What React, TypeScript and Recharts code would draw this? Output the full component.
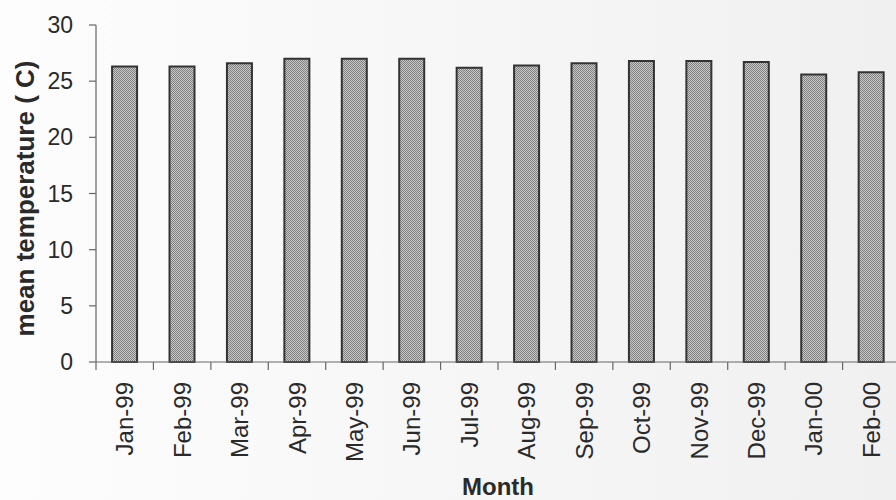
import { BarChart, Bar, XAxis, YAxis } from "recharts";

// monthly mean temperature, Jan-99 .. Feb-00
const months = [
  "Jan-99", "Feb-99", "Mar-99", "Apr-99", "May-99", "Jun-99", "Jul-99",
  "Aug-99", "Sep-99", "Oct-99", "Nov-99", "Dec-99", "Jan-00", "Feb-00",
];
const meanTemp = [
  26.3, 26.3, 26.6, 27.0, 27.0, 27.0, 26.2,
  26.4, 26.6, 26.8, 26.8, 26.7, 25.6, 25.8,
];
const yTicks = [0, 5, 10, 15, 20, 25, 30];

const data = months.map((m, i) => ({ month: m, temp: meanTemp[i] }));

const W = 900;
const H = 500;
const Y_AXIS_W = 96;
const FONT = "Arial, 'Liberation Sans', Helvetica, sans-serif";
const INK = "#2a2a2a";
const AXIS = "#666";

const MonthTick = (props: any) => {
  const { x, y, payload, index } = props;
  const half = payload?.offset ?? (W - Y_AXIS_W) / months.length / 2;
  const last = index === months.length - 1;
  return (
    <g>
      <line x1={x - half} y1={y} x2={x - half} y2={y + 8} stroke={AXIS} strokeWidth={1.2} />
      {last && (
        <line x1={x + half} y1={y} x2={x + half} y2={y + 8} stroke={AXIS} strokeWidth={1.2} />
      )}
      <text
        x={x}
        y={y + 20}
        transform={`rotate(-90, ${x}, ${y + 20})`}
        textAnchor="end"
        dominantBaseline="central"
        fontSize={24}
        fontFamily={FONT}
        fill={INK}
      >
        {payload.value}
      </text>
    </g>
  );
};

const YTitle = (props: any) => {
  const vb = props.viewBox || { x: 0, y: 25, width: Y_AXIS_W, height: 337 };
  const cx = vb.x + 25;
  const cy = vb.y + vb.height / 2 + 5;
  return (
    <text
      x={cx}
      y={cy}
      transform={`rotate(-90, ${cx}, ${cy})`}
      textAnchor="middle"
      dominantBaseline="central"
      fontSize={26}
      fontWeight="bold"
      fontFamily={FONT}
      fill={INK}
    >
      mean temperature ( C)
    </text>
  );
};

const App = () => {
  return (
    <div
      style={{
        position: "absolute",
        left: 0,
        top: 0,
        width: 896,
        height: H,
        overflow: "hidden",
        background: "linear-gradient(to right, #fdfdfd, #f0f0f0)",
      }}
    >
      <BarChart
        width={W}
        height={H}
        data={data}
        margin={{ top: 25, right: 0, left: 0, bottom: 0 }}
        barCategoryGap="28%"
      >
        <defs>
          <pattern id="stipple" width="2" height="2" patternUnits="userSpaceOnUse">
            <rect width="2" height="2" fill="#c8c8c8" />
            <rect x="0" y="0" width="1" height="1" fill="#808080" />
            <rect x="1" y="1" width="1" height="1" fill="#808080" />
          </pattern>
        </defs>

        <XAxis
          dataKey="month"
          interval={0}
          height={138}
          tickLine={false}
          tickSize={0}
          tickMargin={0}
          axisLine={{ stroke: AXIS, strokeWidth: 1.2 }}
          tick={<MonthTick />}
          label={{
            value: "Month",
            position: "insideBottom",
            offset: 5,
            fontSize: 24,
            fontWeight: "bold",
            fontFamily: FONT,
            fill: INK,
          }}
        />

        <YAxis
          width={Y_AXIS_W}
          domain={[0, 30]}
          ticks={yTicks}
          interval={0}
          tickSize={7}
          tickMargin={16}
          axisLine={{ stroke: AXIS, strokeWidth: 1.2 }}
          tickLine={{ stroke: AXIS, strokeWidth: 1.2 }}
          tick={{ fontSize: 23, fontFamily: FONT, fill: INK }}
          label={<YTitle />}
        />

        <Bar
          dataKey="temp"
          fill="url(#stipple)"
          stroke="#333"
          strokeWidth={2}
          isAnimationActive={false}
        />
      </BarChart>
    </div>
  );
};

export default App;
